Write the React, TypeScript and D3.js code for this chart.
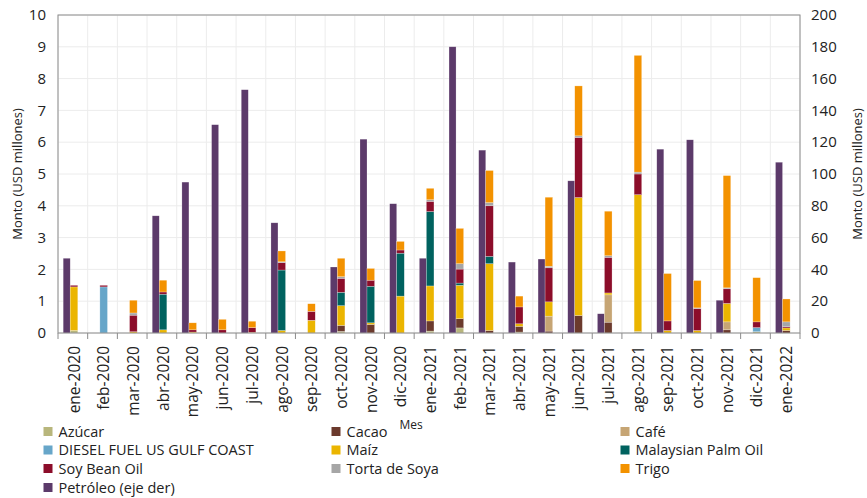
import React from 'react';
import * as d3 from 'd3';

const months = [
  'ene-2020', 'feb-2020', 'mar-2020', 'abr-2020', 'may-2020', 'jun-2020', 'jul-2020',
  'ago-2020', 'sep-2020', 'oct-2020', 'nov-2020', 'dic-2020', 'ene-2021', 'feb-2021',
  'mar-2021', 'abr-2021', 'may-2021', 'jun-2021', 'jul-2021', 'ago-2021', 'sep-2021',
  'oct-2021', 'nov-2021', 'dic-2021', 'ene-2022',
];

// right axis (USD millones)
const petroleo = [47, 0, 0, 73.7, 94.9, 131, 153, 69.3, 0, 41.5, 121.9, 81.3, 47, 180,
  115, 44.6, 46.5, 95.7, 12.1, 0, 115.6, 121.5, 20.6, 0, 107.4];

// left axis, stacked in this order
const azucar = [0.08, 0, 0, 0, 0, 0, 0, 0, 0, 0.05, 0, 0, 0.06, 0.16, 0, 0.03, 0, 0, 0, 0.05, 0, 0, 0, 0.04, 0];
const cacao = [0, 0, 0, 0, 0, 0, 0, 0, 0, 0.19, 0.27, 0, 0.32, 0.29, 0.08, 0.18, 0.06, 0.55, 0.34, 0, 0, 0, 0.1, 0, 0.08];
const cafe = [0, 0, 0, 0, 0, 0, 0, 0, 0, 0, 0, 0, 0, 0, 0, 0, 0.47, 0, 0.86, 0, 0, 0, 0.25, 0, 0];
const diesel = [0, 1.45, 0, 0, 0, 0, 0, 0, 0, 0, 0, 0, 0, 0, 0, 0, 0, 0, 0, 0, 0, 0, 0, 0.13, 0];
const maiz = [1.37, 0, 0.04, 0.1, 0.03, 0, 0.02, 0.08, 0.4, 0.62, 0.05, 1.16, 1.1, 1.05, 2.1, 0.08, 0.45, 3.71, 0.06, 4.3, 0.08, 0.08, 0.58, 0, 0.08];
const palma = [0, 0, 0, 1.12, 0, 0, 0, 1.9, 0, 0.42, 1.15, 1.35, 2.34, 0.07, 0.23, 0, 0, 0, 0, 0, 0, 0, 0, 0, 0];
const soya = [0.05, 0.05, 0.52, 0.07, 0.07, 0.1, 0.15, 0.23, 0.28, 0.44, 0.19, 0.1, 0.32, 0.44, 1.59, 0.53, 1.07, 1.89, 1.12, 0.65, 0.3, 0.69, 0.46, 0.18, 0.04];
const torta = [0, 0, 0.07, 0, 0, 0, 0, 0.03, 0, 0.05, 0, 0, 0.05, 0.17, 0.1, 0, 0.05, 0.05, 0.05, 0.06, 0, 0.02, 0.03, 0, 0.15];
const trigo = [0, 0, 0.4, 0.37, 0.22, 0.33, 0.2, 0.34, 0.24, 0.58, 0.37, 0.27, 0.36, 1.11, 1.01, 0.34, 2.17, 1.57, 1.4, 3.67, 1.49, 0.86, 3.53, 1.39, 0.72];

const seriesNames = ['Azúcar', 'Cacao', 'Café', 'DIESEL FUEL US GULF COAST', 'Maíz',
  'Malaysian Palm Oil', 'Soy Bean Oil', 'Torta de Soya', 'Trigo'];
const seriesValues = [azucar, cacao, cafe, diesel, maiz, palma, soya, torta, trigo];
const colors = ['#b8b67c', '#6b3a2d', '#c6a574', '#67a6c9', '#ebb500', '#00625f', '#8c0d2a', '#a6a6a6', '#f39200'];
const petroleoColor = '#5c3a6a';

const leftTicks = d3.range(0, 11);
const rightTicks = d3.range(0, 201, 20);

const W = 867;
const H = 498;
const m = { left: 58, right: 800, top: 15, bottom: 333 };
const font = '"Open Sans", "Noto Sans", sans-serif';

export default function App() {
  const x = d3.scaleBand<string>().domain(months).range([m.left, m.right]).padding(0);
  const yL = d3.scaleLinear().domain([0, 10]).range([m.bottom, m.top]);
  const yR = d3.scaleLinear().domain([0, 200]).range([m.bottom, m.top]);
  const bw = 7;

  const table = months.map((mo, i) => {
    const row: Record<string, number | string> = { month: mo };
    seriesNames.forEach((s, k) => (row[s] = seriesValues[k][i]));
    return row;
  });
  const stacked = d3.stack<any>().keys(seriesNames)(table);

  const boundaries = months.map((mo) => x(mo)!).concat([m.right]);

  const legendCols = [43.5, 331.5, 620.5];
  const legendRows = [431.5, 450, 468.5, 487.5];
  const legendItems = seriesNames.map((s, i) => ({ name: s, color: colors[i] }))
    .concat([{ name: 'Petróleo (eje der)', color: petroleoColor }]);

  return (
    <svg width={W} height={H} style={{ position: 'absolute', left: 0, top: 0 }} fontFamily={font}>
      <rect width={W} height={H} fill="#fff" />
      {/* grid */}
      {leftTicks.map((t) => (
        <line key={'h' + t} x1={m.left} x2={m.right} y1={yL(t)} y2={yL(t)} stroke="#ececec" />
      ))}
      {boundaries.map((b, i) => (
        <line key={'v' + i} x1={b} x2={b} y1={m.top} y2={m.bottom} stroke="#ececec" />
      ))}
      {/* petroleo bars */}
      {months.map((mo, i) =>
        petroleo[i] > 0 ? (
          <rect key={'p' + i} x={x(mo)! + 5.2} width={bw} y={yR(petroleo[i])}
            height={yR(0) - yR(petroleo[i])} fill={petroleoColor}
            stroke="#fff" strokeOpacity={0.4} strokeWidth={0.5} />
        ) : null
      )}
      {/* stacked bars */}
      {stacked.map((layer, k) => (
        <g key={'s' + k} fill={colors[k]}>
          {layer.map((d, i) =>
            d[1] - d[0] > 0 ? (
              <rect key={i} x={x(months[i])! + 12.2} width={bw + 0.6} y={yL(d[1])}
                height={yL(d[0]) - yL(d[1])} stroke="#fff" strokeOpacity={0.5} strokeWidth={0.5} />
            ) : null
          )}
        </g>
      ))}
      {/* frame */}
      <rect x={m.left} y={m.top} width={m.right - m.left} height={m.bottom - m.top}
        fill="none" stroke="#8c8c8c" strokeWidth={1} />
      {boundaries.map((b, i) => (
        <line key={'t' + i} x1={b} x2={b} y1={m.bottom} y2={m.bottom + 6} stroke="#8c8c8c" />
      ))}
      {/* axis labels */}
      {leftTicks.map((t) => (
        <text key={'l' + t} x={46} y={yL(t)} dy="0.35em" textAnchor="end" fontSize={15} fill="#222">{t}</text>
      ))}
      {rightTicks.map((t) => (
        <text key={'r' + t} x={811} y={yR(t)} dy="0.35em" textAnchor="start" fontSize={15} fill="#222">{t}</text>
      ))}
      {months.map((mo) => (
        <text key={'x' + mo} transform={`translate(${x(mo)! + x.bandwidth() / 2 + 1.5},${m.bottom + 13}) rotate(-90)`}
          textAnchor="end" dy="0.35em" fontSize={15.5} fill="#222">{mo}</text>
      ))}
      <text transform={`translate(22,${(m.top + m.bottom) / 2}) rotate(-90)`} textAnchor="middle"
        fontSize={13} fill="#222">Monto (USD millones)</text>
      <text transform={`translate(857,${(m.top + m.bottom) / 2}) rotate(-90)`} textAnchor="middle"
        dy="0.35em" fontSize={13} fill="#222">Monto (USD millones)</text>
      <text x={411} y={429} textAnchor="middle" fontSize={12} fill="#222">Mes</text>
      {/* legend */}
      {legendItems.map((it, i) => {
        const cx = legendCols[i % 3];
        const cy = legendRows[Math.floor(i / 3)];
        return (
          <g key={'lg' + i}>
            <rect x={cx} y={cy - 4.5} width={9} height={9} fill={it.color} />
            <text x={cx + 15} y={cy} dy="0.35em" fontSize={14.5} fill="#222">{it.name}</text>
          </g>
        );
      })}
    </svg>
  );
}
